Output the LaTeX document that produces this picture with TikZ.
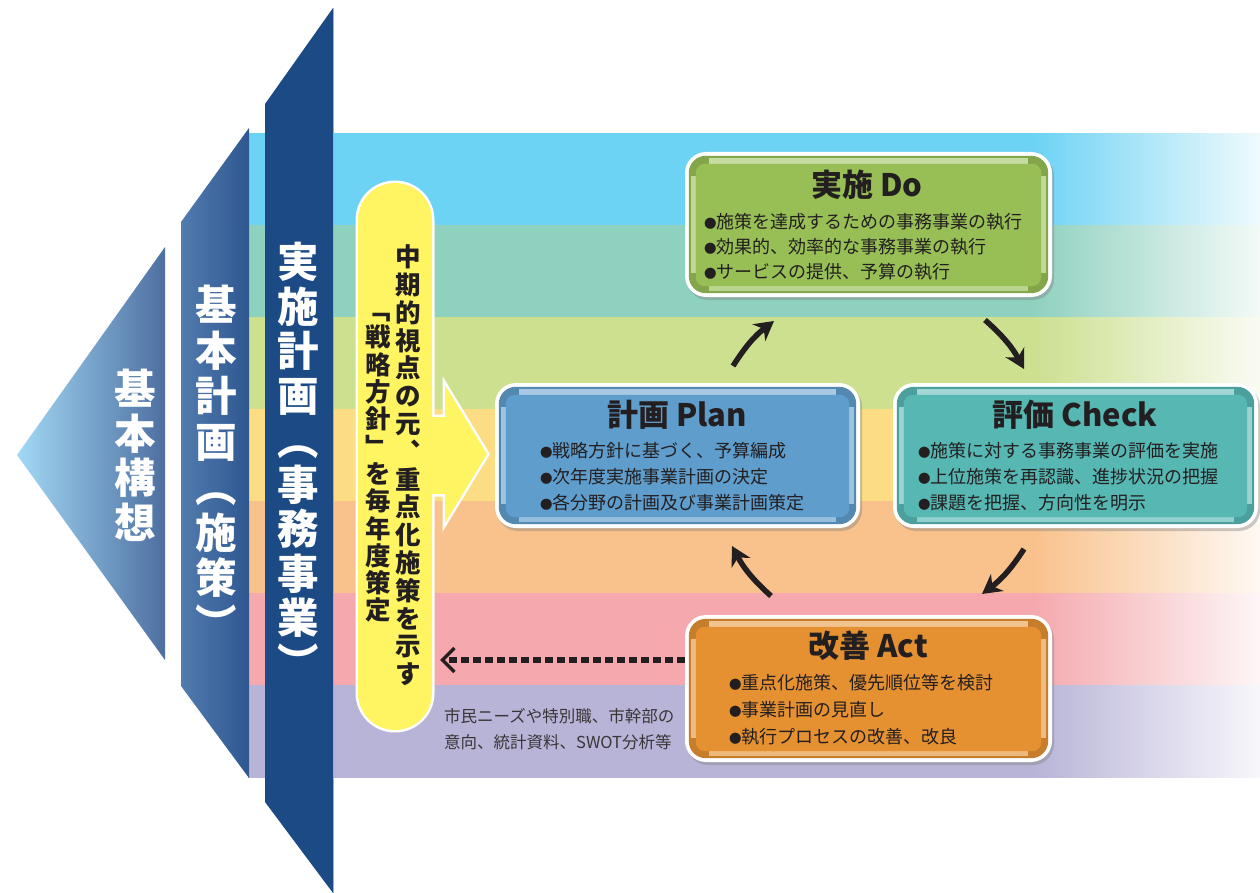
\documentclass[tikz,border=0pt]{standalone}
\usepackage{fontspec}
\newfontfamily\jp{Noto Sans CJK JP}
\usetikzlibrary{arrows.meta,shadows,calc,fadings}
\definecolor{bandA}{HTML}{6CD3F4}
\definecolor{bandB}{HTML}{8FD1BF}
\definecolor{bandC}{HTML}{CCE090}
\definecolor{bandD}{HTML}{FDDD83}
\definecolor{bandE}{HTML}{F9C28C}
\definecolor{bandF}{HTML}{F5A9AE}
\definecolor{bandG}{HTML}{B8B4D8}
\definecolor{triL}{HTML}{A2D9F5}
\definecolor{triR}{HTML}{4E6FA1}
\definecolor{kihL}{HTML}{527CAF}
\definecolor{kihR}{HTML}{2D578F}
\definecolor{jisshi}{HTML}{1B4A84}
\definecolor{pill}{HTML}{FFF462}
\definecolor{ink}{HTML}{231F20}
\definecolor{cDo}{HTML}{97BF55}
\definecolor{cPlan}{HTML}{5F9DCC}
\definecolor{cCheck}{HTML}{56B7B3}
\definecolor{cAct}{HTML}{E59132}
\definecolor{notec}{HTML}{3A3536}

\newcommand\vcol[6]{%
  \foreach \ch [count=\i from 0] in {#6} {\node[#5] (#1\i) at (#2,{#3+\i*#4}) {\ch};}}

\newcommand\pbox[6]{%
  \node[boxbase, minimum width=#5pt, minimum height=#6pt] (#1) at (#3,#4) {};
  \fill[#2!87!black, rounded corners=17pt] ([shift={(4,4)}]#1.north west) rectangle ([shift={(-4,-4)}]#1.south east);
  \fill[#2!55!white] ([shift={(24,6)}]#1.north west) rectangle ([shift={(-24,12)}]#1.north east);
  \fill[#2!65!white] ([shift={(24,-6)}]#1.south west) rectangle ([shift={(-24,-11)}]#1.south east);
  \fill[#2!60!white] ([shift={(6,24)}]#1.north west) rectangle ([shift={(11,-24)}]#1.south west);
  \fill[#2!60!white] ([shift={(-6,24)}]#1.north east) rectangle ([shift={(-11,-24)}]#1.south east);
  \fill[#2, rounded corners=9pt] ([shift={(11,12)}]#1.north west) rectangle ([shift={(-11,-11)}]#1.south east);
}
\newcommand\bl{{\fontsize{12.5}{12.5}\selectfont ●}}

\begin{document}
\begin{tikzpicture}[x=1pt,y=-1pt,
  boxbase/.style={fill=white, rounded corners=21pt, inner sep=0pt,
    drop shadow={opacity=0.4, shadow xshift=2pt, shadow yshift=-3pt}},
  ttl/.style={font=\jp\bfseries\fontsize{31}{31}\selectfont, text=ink, inner sep=0pt},
  bul/.style={font=\jp\fontsize{18}{18}\selectfont, text=ink, inner sep=0pt, anchor=west},
  cyc/.style={ink, line width=5.5pt, -{Stealth[length=19pt,width=21pt,inset=6pt]}},
  vbig/.style={inner sep=0pt, text=white, font=\jp\bfseries\fontsize{41.5}{41.5}\selectfont,
    text height=36.5pt, text depth=5pt},
  vsmall/.style={inner sep=0pt, text=ink, font=\jp\bfseries\fontsize{25.5}{25.5}\selectfont,
    text height=22.4pt, text depth=3.1pt},
  notes/.style={font=\jp\fontsize{16.5}{16.5}\selectfont, text=notec, inner sep=0pt, anchor=west}]
\useasboundingbox (0,0) rectangle (1260,893);

% colour bands
\foreach \c [count=\i from 0] in {bandA,bandB,bandC,bandD,bandE,bandF,bandG} {
  \fill[\c] (248,{133+92*\i}) rectangle (1262,{225.5+92*\i});
}
\fill[white, path fading=west] (1033,132) rectangle (1285,778);

% left hierarchy shapes
\shade[left color=triL, right color=triR] (17,455) -- (165,247) -- (165,660) -- cycle;
\shade[left color=kihL, right color=kihR] (181,222) -- (249,128) -- (249,778) -- (181,686) -- cycle;
\fill[jisshi] (265,104) -- (333,8) -- (333,893) -- (265,802) -- cycle;
\draw[white!55!jisshi, line width=1pt] (333,8) -- (333,893);

\vcol{kk}{135}{389}{44.5}{vbig}{基,本,構,想}
\vcol{kp}{216}{305}{45.5}{vbig}{基,本,計,画,︵,施,策,︶}
\vcol{js}{298}{262}{44.5}{vbig}{実,施,計,画,︵,事,務,事,業,︶}

% yellow arrow
\draw[white, line width=5pt, rounded corners=37pt] (358,183) rectangle (432,730);
\draw[white, line width=5pt, line join=miter] (430,417) -- (445,417) -- (445,385) -- (487,454) -- (445,523) -- (445,494) -- (430,494) -- cycle;
\fill[pill, rounded corners=37pt] (358,183) rectangle (432,730);
\fill[pill] (428,417) -- (445,417) -- (445,385) -- (487,454) -- (445,523) -- (445,494) -- (428,494) -- cycle;

\vcol{yr}{408}{257}{27.8}{vsmall}{中,期,的,視,点,の,元,︑,重,点,化,施,策,を,示,す}
\vcol{yl}{378}{310}{27.3}{vsmall}{﹁,戦,略,方,針,﹂,を,毎,年,度,策,定}

% PDCA boxes
\pbox{do}{cDo}{868.5}{224.5}{367}{145}
\pbox{plan}{cPlan}{677.5}{455.5}{365}{145}
\pbox{check}{cCheck}{1075.5}{455.5}{365}{145}
\pbox{act}{cAct}{868.5}{688.5}{367}{147}

\node[ttl] (doT) at (867,185) {実施 Do};
\node[bul] (doB1) at (704,222) {\bl 施策を達成するための事務事業の執行};
\node[bul] (doB2) at (704,247) {\bl 効果的、効率的な事務事業の執行};
\node[bul] (doB3) at (704,272) {\bl サービスの提供、予算の執行};

\node[ttl] (planT) at (677,415) {計画 Plan};
\node[bul] (planB1) at (540,451) {\bl 戦略方針に基づく、予算編成};
\node[bul] (planB2) at (540,477) {\bl 次年度実施事業計画の決定};
\node[bul] (planB3) at (540,503) {\bl 各分野の計画及び事業計画策定};

\node[ttl] (checkT) at (1075,415) {評価 Check};
\node[bul] (checkB1) at (918,451) {\bl 施策に対する事務事業の評価を実施};
\node[bul] (checkB2) at (918,477) {\bl 上位施策を再認識、進捗状況の把握};
\node[bul] (checkB3) at (918,503) {\bl 課題を把握、方向性を明示};

\node[ttl] (actT) at (868,646) {改善 Act};
\node[bul] (actB1) at (729,683) {\bl 重点化施策、優先順位等を検討};
\node[bul] (actB2) at (729,710) {\bl 事業計画の見直し};
\node[bul] (actB3) at (729,737) {\bl 執行プロセスの改善、改良};

% cycle arrows
\coordinate (a1s) at (733,366); \coordinate (a1e) at (774,321);
\coordinate (a2s) at (985,320); \coordinate (a2e) at (1024,369);
\coordinate (a3s) at (1024,549); \coordinate (a3e) at (982,594);
\coordinate (a4s) at (771,596); \coordinate (a4e) at (732,546);
\draw[cyc] (a1s) to[bend left=10] (a1e);
\draw[cyc] (a2s) to[bend left=10] (a2e);
\draw[cyc] (a3s) to[bend left=10] (a3e);
\draw[cyc] (a4s) to[bend left=10] (a4e);

% dashed feedback arrow
\coordinate (dend) at (440,660);
\draw[ink, line width=6pt, dash pattern=on 8pt off 4pt,
  -{Straight Barb[line width=3.5pt, length=12pt, width=24pt]}] (act.west |- dend) -- (dend);

\node[notes] (note1) at (444,716) {市民ニーズや特別職、市幹部の};
\node[notes] (note2) at (444,742) {意向、統計資料、SWOT分析等};
\end{tikzpicture}
\end{document}
